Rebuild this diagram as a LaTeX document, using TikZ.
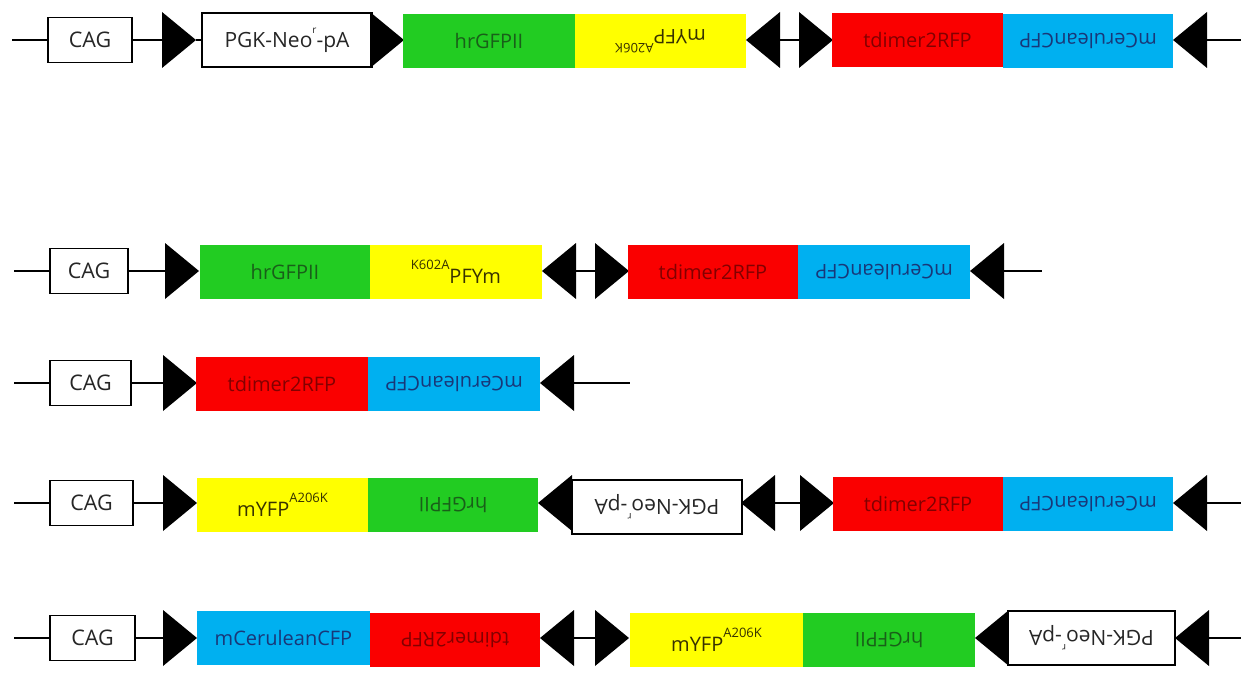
\documentclass[tikz,border=0pt]{standalone}
\usepackage{fontspec}
\setmainfont{Open Sans}
\usepackage{graphicx}
\definecolor{gfp}{RGB}{34,204,34}
\definecolor{gfptx}{RGB}{25,95,25}
\definecolor{yfp}{RGB}{255,255,0}
\definecolor{yfptx}{RGB}{55,50,0}
\definecolor{rfp}{RGB}{250,0,0}
\definecolor{rfptx}{RGB}{130,0,0}
\definecolor{cfp}{RGB}{0,176,240}
\definecolor{cfptx}{RGB}{25,55,120}
\newcommand\upsd[1]{\rotatebox[origin=c]{180}{#1}}
\newcommand\mysup[1]{\raisebox{13.5pt}{\fontsize{13}{13}\selectfont #1}}
\newcommand\rsup{\raisebox{14pt}{\fontsize{10}{10}\selectfont r}}
\tikzset{
 el/.style={inner sep=0pt, outer sep=0pt, anchor=west, font=\fontsize{20}{24}\selectfont},
 cag/.style={el, draw, line width=1.3pt, fill=white, minimum height=45pt, text=black!85, font=\fontsize{21.5}{24}\selectfont},
 pgk/.style={el, draw, line width=1.3pt, fill=white, minimum height=54pt, minimum width=170pt, text=black!85, font=\fontsize{21}{24}\selectfont},
 gfpbox/.style={el, fill=gfp, text=gfptx, minimum height=54pt},
 yfpbox/.style={el, fill=yfp, text=yfptx, minimum height=54pt},
 rfpbox/.style={el, fill=rfp, text=rfptx, minimum height=54pt},
 cfpbox/.style={el, fill=cfp, text=cfptx, minimum height=54pt},
 trir/.style={el, minimum width=34pt, minimum height=56pt,
   path picture={\fill (path picture bounding box.north west) -- (path picture bounding box.east) -- (path picture bounding box.south west) -- cycle;}},
 tril/.style={el, minimum width=34pt, minimum height=56pt,
   path picture={\fill (path picture bounding box.north east) -- (path picture bounding box.west) -- (path picture bounding box.south east) -- cycle;}},
 wire/.style={line width=2pt}
}
\newcommand\yfptext{mYFP\mysup{A206K}}
\newcommand\pgktext{PGK-Neo\rsup-pA}
\begin{document}
\begin{tikzpicture}[x=1pt,y=-1pt]
\useasboundingbox[fill=white] (0,0) rectangle (1241,690);
% ---------- Row 1
\coordinate (a0) at (12,40);
\node[cag, minimum width=84pt] (a1) at (48,40) {CAG};
\node[trir] (a2) at (162,40) {};
\node[pgk] (a3) at (202,40) {\pgktext};
\node[trir] (a4) at (370,40) {};
\node[gfpbox, minimum width=172pt] (a5) at (403,41) {hrGFPII};
\node[yfpbox, minimum width=171pt] (a6) at (575,41) {\upsd{\yfptext}};
\node[tril] (a7) at (746,40) {};
\node[trir] (a8) at (799,40) {};
\node[rfpbox, minimum width=171pt] (a9) at (832,40) {tdimer2RFP};
\node[cfpbox, minimum width=170pt] (a10) at (1003,41) {\upsd{mCeruleanCFP}};
\node[tril] (a11) at (1173,40) {};
\coordinate (a12) at (1241,40);
\draw[wire] (a0) -- (a1) (a1) -- (a2) (a2) -- (a3) (a7) -- (a8) (a11) -- (a12);
% ---------- Row 2
\coordinate (b0) at (14,271);
\node[cag, minimum width=78pt] (b1) at (50,271) {CAG};
\node[trir] (b2) at (165,271) {};
\node[gfpbox, minimum width=170pt] (b3) at (200,272) {hrGFPII};
\node[yfpbox, minimum width=172pt] (b4) at (370,272) {\mysup{K602A}PFYm};
\node[tril] (b5) at (542,271) {};
\node[trir] (b6) at (595,271) {};
\node[rfpbox, minimum width=170pt] (b7) at (628,272) {tdimer2RFP};
\node[cfpbox, minimum width=172pt] (b8) at (798,272) {\upsd{mCeruleanCFP}};
\node[tril] (b9) at (970,271) {};
\coordinate (b10) at (1042,271);
\draw[wire] (b0) -- (b1) (b1) -- (b2) (b5) -- (b6) (b9) -- (b10);
% ---------- Row 3
\coordinate (c0) at (14,383);
\node[cag, minimum width=81pt] (c1) at (50,383) {CAG};
\node[trir] (c2) at (163,383) {};
\node[rfpbox, minimum width=172pt] (c3) at (196,384) {tdimer2RFP};
\node[cfpbox, minimum width=172pt] (c4) at (368,384) {\upsd{mCeruleanCFP}};
\node[tril] (c5) at (540,383) {};
\coordinate (c6) at (630,383);
\draw[wire] (c0) -- (c1) (c1) -- (c2) (c5) -- (c6);
% ---------- Row 4
\coordinate (d0) at (14,503);
\node[cag, minimum width=83pt] (d1) at (50,503) {CAG};
\node[trir] (d2) at (163,503) {};
\node[yfpbox, minimum width=171pt] (d3) at (197,505) {\yfptext};
\node[gfpbox, minimum width=170pt] (d4) at (368,505) {\upsd{hrGFPII}};
\node[tril] (d5) at (538,503) {};
\node[pgk] (d6) at (572,507) {\upsd{\pgktext}};
\node[tril] (d7) at (741,503) {};
\node[trir] (d8) at (800,503) {};
\node[rfpbox, minimum width=170pt] (d9) at (833,504) {tdimer2RFP};
\node[cfpbox, minimum width=170pt] (d10) at (1003,504) {\upsd{mCeruleanCFP}};
\node[tril] (d11) at (1173,503) {};
\coordinate (d12) at (1241,503);
\draw[wire] (d0) -- (d1) (d1) -- (d2) (d7) -- (d8) (d11) -- (d12);
% ---------- Row 5
\coordinate (e0) at (14,638);
\node[cag, minimum width=85pt] (e1) at (50,638) {CAG};
\node[trir] (e2) at (163,638) {};
\node[cfpbox, minimum width=173pt] (e3) at (197,638) {mCeruleanCFP};
\node[rfpbox, minimum width=170pt] (e4) at (370,640) {\upsd{tdimer2RFP}};
\node[tril] (e5) at (540,638) {};
\node[trir] (e6) at (595,638) {};
\node[yfpbox, minimum width=173pt] (e7) at (630,640) {\yfptext};
\node[gfpbox, minimum width=172pt] (e8) at (803,640) {\upsd{hrGFPII}};
\node[tril] (e9) at (975,638) {};
\node[pgk, minimum width=167pt] (e10) at (1008,638) {\upsd{\pgktext}};
\node[tril] (e11) at (1175,638) {};
\coordinate (e12) at (1241,638);
\draw[wire] (e0) -- (e1) (e1) -- (e2) (e5) -- (e6) (e11) -- (e12);
\end{tikzpicture}
\end{document}
